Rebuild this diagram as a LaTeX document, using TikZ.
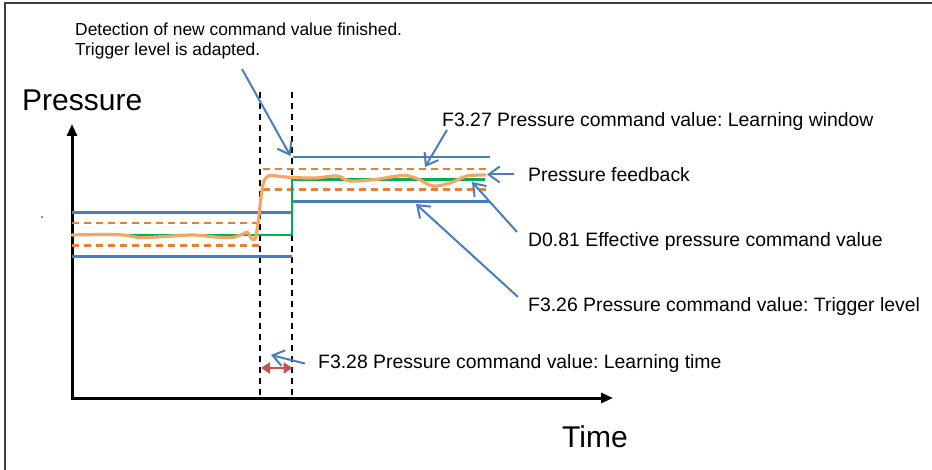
\documentclass[tikz,border=0pt]{standalone}
\usepackage{fontspec}
\setmainfont{Liberation Sans}
\usepackage{tikz}
\usetikzlibrary{arrows.meta}
\definecolor{winblue}{RGB}{74,126,187}
\definecolor{trigorange}{RGB}{237,125,49}
\definecolor{cmdgreen}{RGB}{0,176,80}
\definecolor{fbkorange}{RGB}{245,165,100}
\definecolor{spanred}{RGB}{200,80,77}
\frenchspacing

\begin{document}
\begin{tikzpicture}[x=1pt,y=-1pt,
  lbl/.style={anchor=west,inner sep=0pt,font=\fontsize{19.4}{22}\selectfont},
  big/.style={anchor=west,inner sep=0pt,font=\fontsize{30}{34}\selectfont},
  winline/.style={line width=2.3pt,winblue},
  trigline/.style={line width=2.3pt,trigorange,dash pattern=on 7pt off 5pt},
  pointer/.style={line width=2pt,winblue,-{Straight Barb[length=11pt,width=16pt,line width=2pt]}},
  marker/.style={line width=1.7pt,dash pattern=on 6pt off 5pt}]
  \useasboundingbox (0,0) rectangle (932,470);
  \draw[line width=1.5pt,black!75] (5,470) -- (5,3) -- (932,3);
  \fill[black!60] (42,217) circle (1.2pt);
  % axes
  \draw[line width=3pt,-{Triangle[length=12pt,width=10pt]}] (72,399.5) -- (72,124);
  \draw[line width=3pt,-{Triangle[length=12pt,width=10pt]}] (70.5,398) -- (613,398);
  \node[big] (pres) at (22,100) {Pressure};
  \node[big] (time) at (562,437) {Time};
  % detection and learning time markers
  \draw[marker] (260,92) -- (260,398);
  \draw[marker] (292,92) -- (292,398);
  % old command value window
  \draw[winline] (72,212.5) -- (292,212.5);
  \draw[winline] (72,256.5) -- (292,256.5);
  \draw[trigline] (72,223) -- (260,223);
  \draw[trigline] (72,245.5) -- (260,245.5);
  % new command value window
  \draw[winline] (293,157) -- (490,157);
  \draw[winline] (293,201.5) -- (490,201.5);
  \draw[trigline] (263,169) -- (488,169);
  \draw[trigline] (263,189.5) -- (488,189.5);
  % command value and feedback
  \draw[line width=2.3pt,cmdgreen] (72,235) -- (292,235) -- (292,179.5) -- (485,179.5);
  \draw[line width=3.2pt,fbkorange,line join=round,line cap=round] plot[smooth,tension=0.55] coordinates {
    (72,235) (100,234.5) (123,235) (140,237.5) (165,236.5) (193,235) (215,237)
    (232,237.5) (243,234) (247,232) (250,236) (253,240) (256,236) (259,215)
    (262,190) (265,179) (270,175.5) (280,176.5) (293,177.5) (315,178) (337,176)
    (350,181) (375,179.5) (403,175.5) (418,179) (433,186) (450,183) (467,176) (485,175)};
  % labels
  \node[anchor=west,inner sep=0pt,font=\fontsize{17.4}{20}\selectfont,align=left] (detect) at (75,41)
    {Detection of new command value finished.\\Trigger level is adapted.};
  \node[lbl] (learnwin) at (442,121) {F3.27 Pressure command value: Learning window};
  \node[lbl] (feedback) at (528,175) {Pressure feedback};
  \node[lbl] (effective) at (528,241) {D0.81 Effective pressure command value};
  \node[lbl] (trigger) at (528,306) {F3.26 Pressure command value: Trigger level};
  \node[lbl] (learntime) at (318,363) {F3.28 Pressure command value: Learning time};
  % pointers
  \coordinate (detectfrom) at (242,69);
  \coordinate (detectto) at (290.5,156);
  \coordinate (learnwinfrom) at (447,130);
  \coordinate (learnwinto) at (425,167);
  \coordinate (feedbackfrom) at (514,174.5);
  \coordinate (feedbackto) at (487,174.5);
  \coordinate (effectivefrom) at (517,232);
  \coordinate (effectiveto) at (472,182);
  \coordinate (triggerfrom) at (518,297);
  \coordinate (triggerto) at (416,204);
  \coordinate (learntimefrom) at (305,363.5);
  \coordinate (learntimeto) at (271,355);
  \draw[pointer] (detectfrom) -- (detectto);
  \draw[pointer] (learnwinfrom) -- (learnwinto);
  \draw[pointer] (feedbackfrom) -- (feedbackto);
  \draw[pointer] (effectivefrom) -- (effectiveto);
  \draw[pointer] (triggerfrom) -- (triggerto);
  \draw[pointer] (learntimefrom) -- (learntimeto);
  \coordinate (spanleft) at (261,368);
  \coordinate (spanright) at (292.5,368);
  \draw[line width=2.4pt,spanred,{Triangle[length=9pt,width=11pt]}-{Triangle[length=9pt,width=11pt]}] (spanleft) -- (spanright);
\end{tikzpicture}
\end{document}
